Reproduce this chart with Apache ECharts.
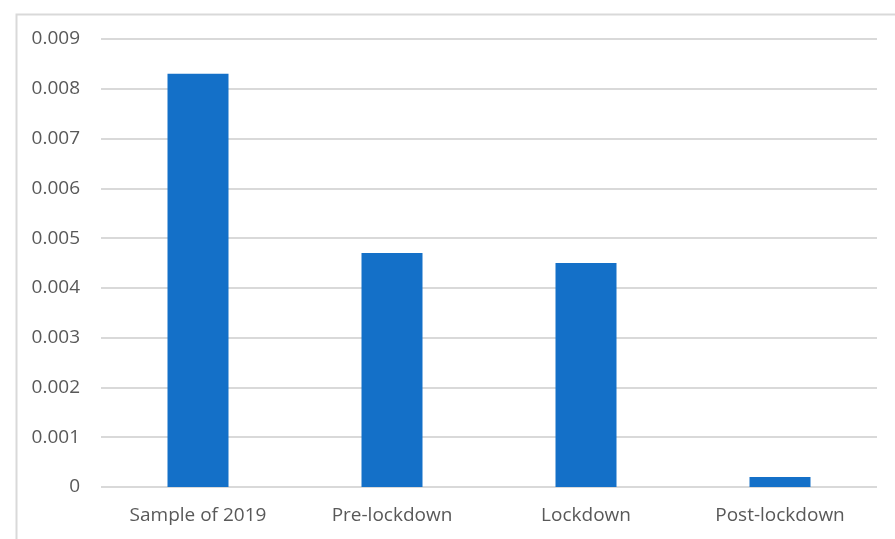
<!DOCTYPE html>
<html><head><meta charset="utf-8">
<script src="https://cdn.jsdelivr.net/npm/echarts@6/dist/echarts.min.js"></script>
<style>html,body{margin:0;padding:0;background:#fff}#c{width:895px;height:539px}</style>
</head><body><div id="c"></div>
<script>
const categories = ["Sample of 2019", "Pre-lockdown", "Lockdown", "Post-lockdown"];
const values = [0.0083, 0.0047, 0.0045, 0.0002];
const yTicks = [0, 0.001, 0.002, 0.003, 0.004, 0.005, 0.006, 0.007, 0.008, 0.009];

const chart = echarts.init(document.getElementById('c'), null, {renderer: 'canvas'});
chart.setOption({
  animation: false,
  backgroundColor: '#ffffff',
  graphic: [{
    type: 'rect', left: 14, top: 12, silent: true,
    shape: {width: 920, height: 560},
    style: {fill: 'none', stroke: '#d9d9d9', lineWidth: 2}
  }],
  grid: {left: 101, right: 18, top: 39, bottom: 52, containLabel: false},
  xAxis: {
    type: 'category', data: categories,
    axisLine: {show: false}, axisTick: {show: false},
    axisLabel: {color: '#595959', fontSize: 19, fontFamily: 'Open Sans', margin: 19}
  },
  yAxis: {
    type: 'value', min: yTicks[0], max: yTicks[yTicks.length - 1], interval: 0.001,
    axisLine: {show: false}, axisTick: {show: false},
    splitLine: {lineStyle: {color: '#d9d9d9', width: 2}},
    axisLabel: {color: '#595959', fontSize: 19, fontFamily: 'Open Sans', margin: 21,
      formatter: v => v === 0 ? '0' : v.toFixed(3)}
  },
  series: [{
    type: 'bar', data: values, barWidth: 61,
    itemStyle: {color: '#1470c8'}
  }]
});
</script></body></html>
